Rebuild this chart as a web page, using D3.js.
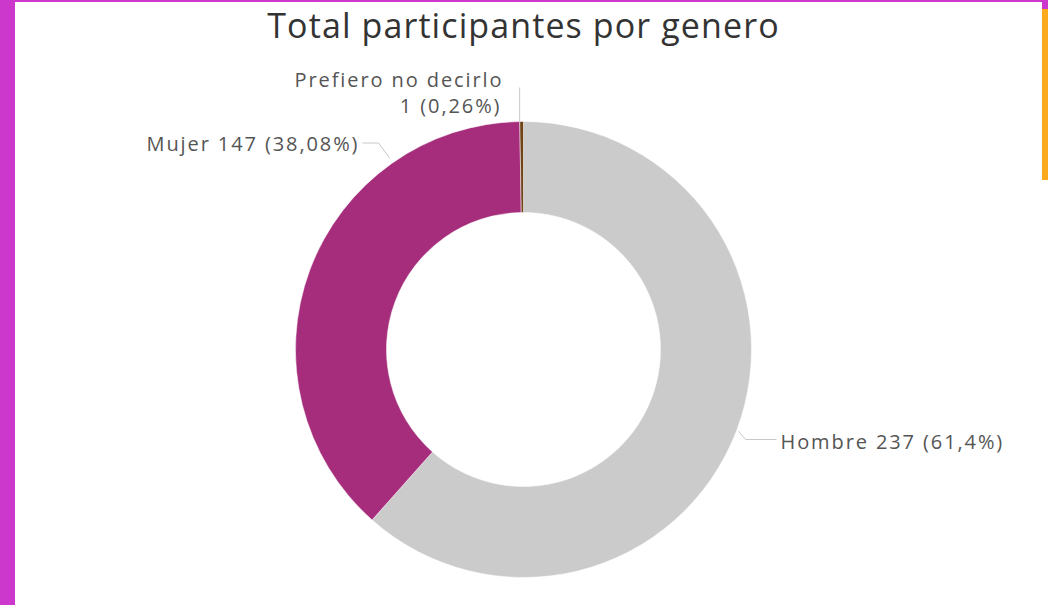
<!DOCTYPE html>
<html>
<head>
<meta charset="utf-8">
<script src="https://cdn.jsdelivr.net/npm/d3@7"></script>
<style>
  body { margin: 0; background: #fff; }
  svg { display: block; }
</style>
</head>
<body>
<div id="chart"></div>
<script>
// data
var categories = ["Hombre", "Mujer", "Prefiero no decirlo"];
var counts = [237, 147, 1];
var percentLabels = ["61,4%", "38,08%", "0,26%"];
var sliceColors = ["#cbcbcb", "#a52d7c", "#6e4418"];

// size
var W = 1048, H = 605;
var cx = 523.5, cy = 349.5;
var outerR = 228, innerR = 137;

var svg = d3.select("#chart").append("svg").attr("width", W).attr("height", H);

// frame strips
svg.append("rect").attr("x", 0).attr("y", 0).attr("width", 15).attr("height", H).attr("fill", "#cc38cc");
svg.append("rect").attr("x", 0).attr("y", 0).attr("width", W).attr("height", 2).attr("fill", "#cc38cc");
svg.append("rect").attr("x", 1042).attr("y", 0).attr("width", 6).attr("height", 9).attr("fill", "#cc38cc");
svg.append("rect").attr("x", 1042).attr("y", 9).attr("width", 6).attr("height", 171).attr("fill", "#fbaa1e");

// title
svg.append("text")
    .attr("x", cx).attr("y", 38)
    .attr("text-anchor", "middle")
    .attr("font-family", "'Open Sans', sans-serif")
    .attr("font-size", 34)
    .attr("letter-spacing", 1.1)
    .attr("fill", "#333")
    .text("Total participantes por genero");

var data = categories.map(function (c, i) {
    return {name: c, value: counts[i], pct: percentLabels[i], color: sliceColors[i]};
});

var pie = d3.pie().sort(null).value(function (d) { return d.value; });
var arc = d3.arc().innerRadius(innerR).outerRadius(outerR);
var arcs = pie(data);

var g = svg.append("g").attr("transform", "translate(" + cx + "," + cy + ")");

g.selectAll("path")
    .data(arcs)
    .enter().append("path")
    .attr("d", arc)
    .attr("fill", function (d) { return d.data.color; })
    .attr("stroke", "#fff")
    .attr("stroke-width", 0.5);

// leader lines + labels
var lineColor = "#c8c8c8";
var labelFont = "'Open Sans', sans-serif";
var labelColor = "#555";
var ls = 1.9;

function angPoint(a, r) { return [Math.sin(a) * r, -Math.cos(a) * r]; }

arcs.forEach(function (d) {
    var mid = (d.startAngle + d.endAngle) / 2;
    var pts, tx, ty, anchor, lines;
    if (d.index === 0) {
        var p0 = angPoint(mid, outerR + 2);
        pts = [p0, [p0[0] + 7, 90], [253, 90]];
        tx = 257; ty = 99; anchor = "start";
        lines = [d.data.name + " " + d.data.value + " (" + d.data.pct + ")"];
    } else if (d.index === 1) {
        // label pushed up toward the top-left of the ring
        var q0 = angPoint(-0.61, outerR + 6);
        pts = [q0, [-145, -206.5], [-161, -206.5]];
        tx = -166 + ls; ty = -199; anchor = "end";
        lines = [d.data.name + " " + d.data.value + " (" + d.data.pct + ")"];
    } else {
        var r0 = angPoint(mid, outerR);
        pts = [[r0[0] - 2, r0[1]], [r0[0] - 2, -262]];
        tx = -22 + ls; ty = -263; anchor = "end";
        lines = [d.data.name, d.data.value + " (" + d.data.pct + ")"];
    }
    g.append("path")
        .attr("d", d3.line()(pts))
        .attr("fill", "none")
        .attr("stroke", lineColor)
        .attr("stroke-width", 1);
    var t = g.append("text")
        .attr("text-anchor", anchor)
        .attr("font-family", labelFont)
        .attr("font-size", 20)
        .attr("letter-spacing", ls)
        .attr("fill", labelColor);
    if (lines.length === 1) {
        t.attr("x", tx).attr("y", ty).text(lines[0]);
    } else {
        t.append("tspan").attr("x", tx).attr("y", ty).text(lines[0]);
        t.append("tspan").attr("x", tx - 2).attr("y", ty + 26).text(lines[1]);
    }
});
</script>
</body>
</html>
